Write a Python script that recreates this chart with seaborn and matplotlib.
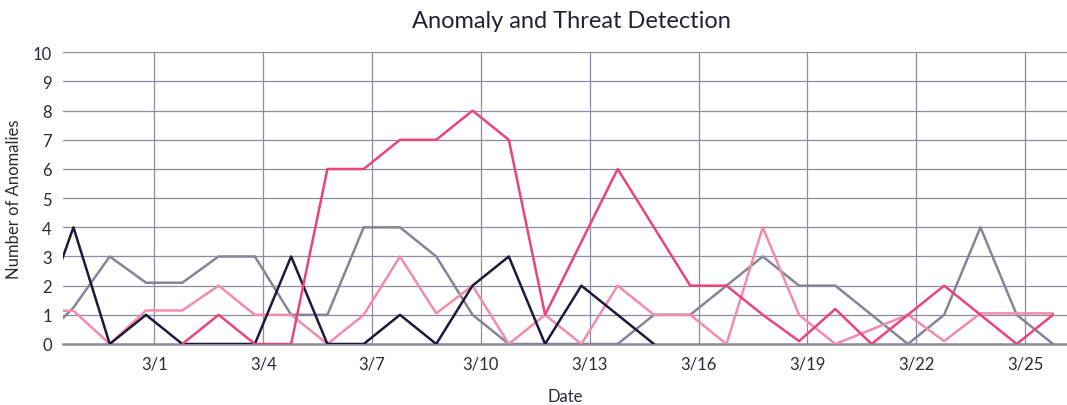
import matplotlib

matplotlib.use("Agg")
import matplotlib.pyplot as plt
import numpy as np
import pandas as pd
import seaborn as sns

# one reading per day, first sample is off the left edge of the plot
start_time = "2025-02-25 18:30"
n_points = 29

series_names = ["Series A", "Series B", "Series C", "Series D"]
series_colors = ["#85859a", "#f28cab", "#1c1a3b", "#e8457a"]

# gray
series_a = [0, 1.25, 3, 2.1, 2.1, 3, 3, 1, 1, 4, 4, 3, 1, 0, 0, 0, 0, 1, 1, 2, 3, 2, 2, 1, 0, 1, 4, 1, 0]
# light pink
series_b = [1.14, 1.14, 0, 1.15, 1.15, 2, 1, 1, 0, 1, 3, 1.05, 2, 0, 1, 0, 2, 1, 1, 0, 4, 1, 0, 0.5, 1, 0.1, 1.05, 1.05, 1.05]
# navy
series_c = [0.5, 4, 0, 1, 0, 0, 0, 3, 0, 0, 1, 0, 2, 3, 0, 2, 1, 0] + [np.nan] * 11
# hot pink
series_d = [np.nan] * 4 + [0, 1, 0, 0, 6, 6, 7, 7, 8, 7, 1, 3.5, 6, 4, 2, 2, 1, 0.1, 1.2, 0, 1, 2, 1, 0, 1]

tick_dates = ["3/1", "3/4", "3/7", "3/10", "3/13", "3/16", "3/19", "3/22", "3/25"]
y_ticks = list(range(0, 11))

dates = pd.date_range(start_time, periods=n_points, freq="D")
frames = []
for name, values in zip(series_names, [series_a, series_b, series_c, series_d]):
    frames.append(pd.DataFrame({"Date": dates, "count": values, "series": name}))
df = pd.concat(frames, ignore_index=True).dropna()

sns.set_theme(style="white")
plt.rcParams["font.family"] = ["Lato", "DejaVu Sans"]

fig = plt.figure(figsize=(10.67, 4.06), dpi=100)
ax = fig.add_axes([63 / 1067, 1 - 345 / 406, 1 - 63 / 1067, (345 - 53.3) / 406])

sns.lineplot(
    data=df,
    x="Date",
    y="count",
    hue="series",
    hue_order=series_names,
    palette=dict(zip(series_names, series_colors)),
    linewidth=1.8,
    legend=False,
    ax=ax,
    zorder=3,
)

tick_pos = pd.to_datetime(["2025-" + d.replace("/", "-") for d in tick_dates])
ax.set_xticks(tick_pos)
ax.set_xticklabels(tick_dates)
ax.set_yticks(y_ticks)
ax.set_xlim(pd.Timestamp("2025-02-26 11:35"), pd.Timestamp("2025-03-26 03:46"))
ax.set_ylim(0, 10)

ax.grid(True, axis="both", color="#8c8c9e", linewidth=0.9)
ax.set_axisbelow(True)
for side in ["left", "right", "top"]:
    ax.spines[side].set_visible(False)
ax.spines["bottom"].set_color("#8c8c9e")
ax.spines["bottom"].set_linewidth(1.8)
ax.tick_params(axis="both", length=0, labelsize=12, labelcolor="#2a2a3c", pad=8)

ax.set_xlabel("Date", fontsize=12, color="#2a2a3c", labelpad=12)
ax.set_ylabel("Number of Anomalies", fontsize=12, color="#2a2a3c", labelpad=8)
fig.text(571 / 1067, 1 - 22 / 406, "Anomaly and Threat Detection", ha="center", va="center",
         fontsize=17, color="#222233")

fig.savefig("out.png", dpi=100)
